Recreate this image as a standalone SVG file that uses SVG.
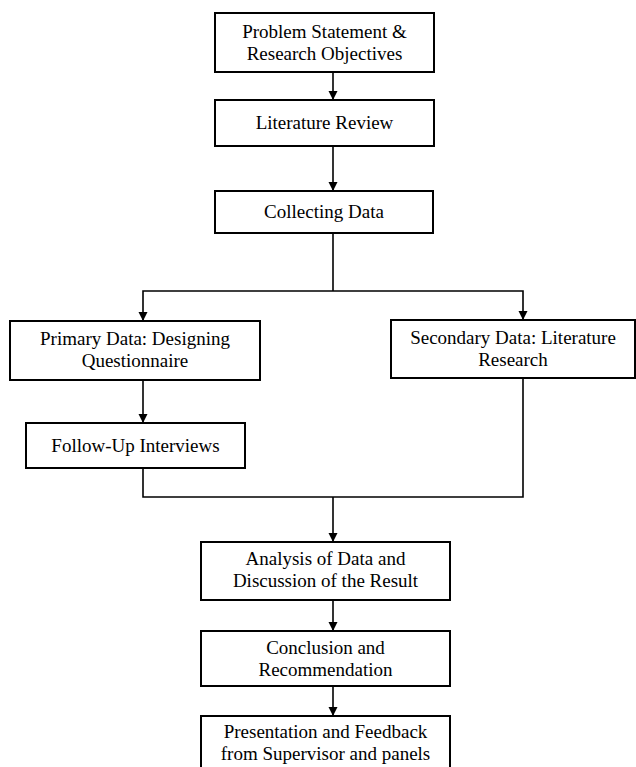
<svg xmlns="http://www.w3.org/2000/svg" width="636" height="767" viewBox="0 0 636 767">
<defs>
<style>
.box{fill:#fff;stroke:#000;stroke-width:2}
.t{font-family:"Liberation Serif","Times New Roman",serif;font-size:19px;fill:#000;text-anchor:middle}
.c{fill:none;stroke:#000;stroke-width:1.6}
</style>
<marker id="a" markerWidth="10" markerHeight="10" refX="9" refY="5" orient="auto" markerUnits="userSpaceOnUse" viewBox="0 0 10 10">
<path d="M0,0.5 L9,5 L0,9.5 Z" fill="#000"/>
</marker>
</defs>
<rect width="636" height="767" fill="#fff"/>
<g id="connectors">
<line class="c" x1="333" y1="72" x2="333" y2="100" marker-end="url(#a)"/>
<line class="c" x1="333" y1="146" x2="333" y2="191" marker-end="url(#a)"/>
<polyline class="c" points="333,233 333,291"/>
<polyline class="c" points="333,291 143,291 143,321" marker-end="url(#a)"/>
<polyline class="c" points="333,291 523,291 523,320" marker-end="url(#a)"/>
<line class="c" x1="143" y1="380" x2="143" y2="423" marker-end="url(#a)"/>
<polyline class="c" points="143,468 143,497 523,497 523,378"/>
<line class="c" x1="333" y1="497" x2="333" y2="542" marker-end="url(#a)"/>
<line class="c" x1="333" y1="600" x2="333" y2="631" marker-end="url(#a)"/>
<line class="c" x1="333" y1="686" x2="333" y2="716" marker-end="url(#a)"/>
</g>
<g id="problem">
<rect class="box" x="215" y="13" width="219" height="59"/>
<text class="t" x="324.5" y="38">Problem Statement &amp;</text>
<text class="t" x="324.5" y="60">Research Objectives</text>
</g>
<g id="literature">
<rect class="box" x="215" y="100" width="219" height="46"/>
<text class="t" x="324.5" y="129">Literature Review</text>
</g>
<g id="collecting">
<rect class="box" x="215" y="191" width="218" height="42"/>
<text class="t" x="324" y="218">Collecting Data</text>
</g>
<g id="primary">
<rect class="box" x="10" y="321" width="250" height="59"/>
<text class="t" x="135" y="345">Primary Data: Designing</text>
<text class="t" x="135" y="367">Questionnaire</text>
</g>
<g id="secondary">
<rect class="box" x="391" y="320" width="244" height="58"/>
<text class="t" x="513" y="344">Secondary Data: Literature</text>
<text class="t" x="513" y="366">Research</text>
</g>
<g id="followup">
<rect class="box" x="26" y="423" width="219" height="45"/>
<text class="t" x="135.5" y="452">Follow-Up Interviews</text>
</g>
<g id="analysis">
<rect class="box" x="201" y="542" width="249" height="58"/>
<text class="t" x="325.5" y="565">Analysis of Data and</text>
<text class="t" x="325.5" y="587">Discussion of the Result</text>
</g>
<g id="conclusion">
<rect class="box" x="201" y="631" width="249" height="55"/>
<text class="t" x="325.5" y="654">Conclusion and</text>
<text class="t" x="325.5" y="676">Recommendation</text>
</g>
<g id="presentation">
<rect class="box" x="201" y="716" width="249" height="58"/>
<text class="t" x="325.5" y="738">Presentation and Feedback</text>
<text class="t" x="325.5" y="760">from Supervisor and panels</text>
</g>
</svg>
